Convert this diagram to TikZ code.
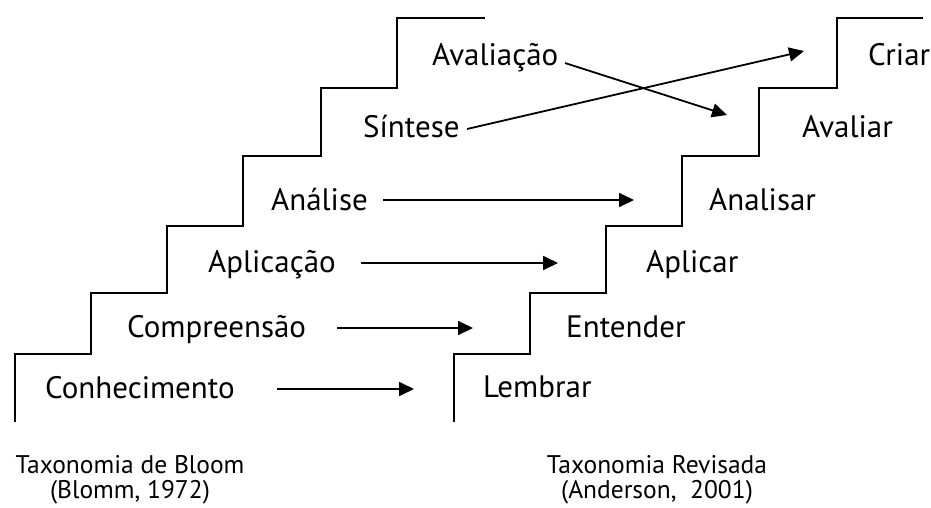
\documentclass[tikz,border=0pt]{standalone}
\usepackage{fontspec}
\setmainfont{PT Sans}
\usetikzlibrary{arrows.meta}
\begin{document}
\begin{tikzpicture}[x=1pt,y=-1pt,
  stair/.style={line width=2.4pt,line join=miter},
  arr/.style={line width=1.8pt,-{Triangle[length=15pt,width=14pt]}},
  lbl/.style={inner sep=0pt,anchor=base west,font=\fontsize{31}{36}\selectfont},
  captxt/.style={inner sep=0pt,anchor=base,font=\fontsize{25.5}{30}\selectfont}]
\useasboundingbox (0,0) rectangle (931,507);
% left staircase (original taxonomy)
\draw[stair] (15,422) -- (15,354) -- (91,354) -- (91,293) -- (167,293) -- (167,226)
  -- (243,226) -- (243,156) -- (321,156) -- (321,88) -- (397,88) -- (397,18) -- (485,18);
% right staircase (revised taxonomy)
\draw[stair] (454,422) -- (454,354) -- (530,354) -- (530,293) -- (606,293) -- (606,226)
  -- (682,226) -- (682,156) -- (759,156) -- (759,88) -- (837,88) -- (837,18) -- (923,18);
% level names
\node[lbl] (conh) at (45,398)  {Conhecimento};
\node[lbl] (comp) at (127,337) {Compreensão};
\node[lbl] (apl)  at (208,272) {Aplicação};
\node[lbl] (anl)  at (271,210) {Análise};
\node[lbl] (sint) at (363,137) {Síntese};
\node[lbl] (aval) at (432,65)  {Avaliação};
\node[lbl] (lemb) at (483,397) {Lembrar};
\node[lbl] (ente) at (566,337) {Entender};
\node[lbl] (apli) at (646,272) {Aplicar};
\node[lbl] (anls) at (709,210) {Analisar};
\node[lbl] (avlr) at (802,137) {Avaliar};
\node[lbl] (cria) at (868,65)  {Criar};
% captions
\node[captxt] (capL1) at (130,473) {Taxonomia de Bloom};
\node[captxt] (capL2) at (130,498) {(Blomm, 1972)};
\node[captxt] (capR1) at (657,473) {Taxonomia Revisada};
\node[captxt] (capR2) at (657,498) {(Anderson,\ \ 2001)};
% arrow end points
\coordinate (s1) at (277,389); \coordinate (e1) at (414,389);
\coordinate (s2) at (337,328); \coordinate (e2) at (473,328);
\coordinate (s3) at (361,263); \coordinate (e3) at (558,263);
\coordinate (s4) at (383,200); \coordinate (e4) at (634,200);
\coordinate (s5) at (467,129); \coordinate (e5) at (804,51);
\coordinate (s6) at (565,63);  \coordinate (e6) at (727,115);
\draw[arr] (s1) -- (e1);
\draw[arr] (s2) -- (e2);
\draw[arr] (s3) -- (e3);
\draw[arr] (s4) -- (e4);
\draw[arr] (s5) -- (e5);
\draw[arr] (s6) -- (e6);
\end{tikzpicture}
\end{document}
